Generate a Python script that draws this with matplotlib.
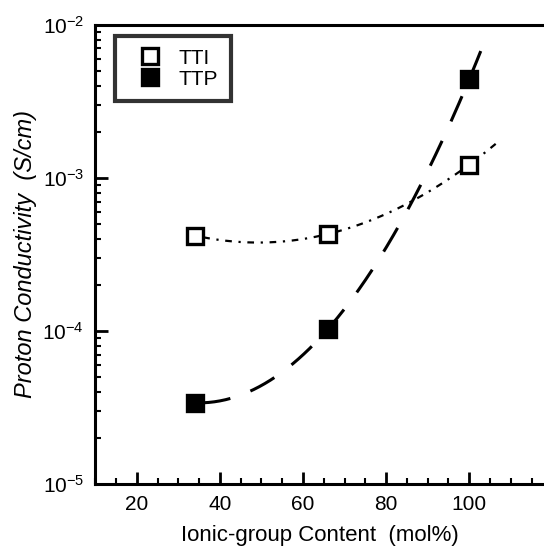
import numpy as np
import matplotlib.pyplot as plt
from matplotlib.ticker import MultipleLocator, LogLocator, NullFormatter

plt.rcParams['font.family'] = ['Liberation Sans', 'DejaVu Sans']
plt.rcParams['mathtext.fontset'] = 'custom'
plt.rcParams['mathtext.rm'] = 'Liberation Sans'
plt.rcParams['mathtext.it'] = 'Liberation Sans:italic'

# ionic-group content (mol%) and proton conductivity (S/cm)
content = [34, 66, 100]
tti = [4.2e-4, 4.3e-4, 1.22e-3]
ttp = [3.4e-5, 1.03e-4, 4.4e-3]

fig = plt.figure(figsize=(5.44, 5.49), dpi=100)
ax = fig.add_axes([0.175, 0.118, 0.825, 0.837])


def fit_line(x, y, x0, x1):
    "quadratic fit in log space, like the original trend lines"
    p = np.polyfit(x, np.log10(y), 2)
    xs = np.linspace(x0, x1, 200)
    return xs, 10 ** np.polyval(p, xs)


xs, ys = fit_line(content, tti, 36, 107)
ax.plot(xs, ys, color='black', lw=1.6, dashes=(3, 3, 1, 3))
xs, ys = fit_line(content, ttp, 36, 103)
ax.plot(xs, ys, color='black', lw=2.2, dashes=(9, 7))

ax.plot(content, tti, 's', ms=12, mfc='white', mec='black', mew=2.4,
        label='TTI', zorder=5)
ax.plot(content, ttp, 's', ms=12, mfc='black', mec='black', mew=2.4,
        label='TTP', zorder=5)

ax.set_yscale('log')
ax.set_ylim(1e-5, 1e-2)
ax.set_xlim(10, 118)
ax.xaxis.set_major_locator(MultipleLocator(20))
ax.xaxis.set_minor_locator(MultipleLocator(5))
ax.yaxis.set_minor_locator(LogLocator(base=10, subs=np.arange(2, 10)))
ax.yaxis.set_minor_formatter(NullFormatter())
ax.tick_params(which='major', direction='in', length=9, width=2,
               labelsize=15, pad=8)
ax.tick_params(which='minor', direction='in', length=4, width=1.5)
ax.tick_params(axis='x', top=False)
ax.tick_params(axis='y', right=False)
for side in ['left', 'bottom', 'top']:
    ax.spines[side].set_linewidth(2.2)
ax.spines['right'].set_visible(False)

ax.set_xlabel('Ionic-group Content  (mol%)', fontsize=16, labelpad=8)
ax.set_ylabel('Proton Conductivity  (S/cm)', fontsize=17, style='italic',
              labelpad=4)

leg = ax.legend(loc='upper left', bbox_to_anchor=(0.045, 0.975), fontsize=15,
                frameon=True, fancybox=False, handlelength=2.1,
                handletextpad=0.35, borderpad=0.6, labelspacing=0.1,
                borderaxespad=0.0)
leg.get_frame().set_edgecolor('black')
leg.get_frame().set_linewidth(3)
for h in leg.legend_handles:
    h.set_markersize(12)

fig.savefig('out.png', dpi=100)
